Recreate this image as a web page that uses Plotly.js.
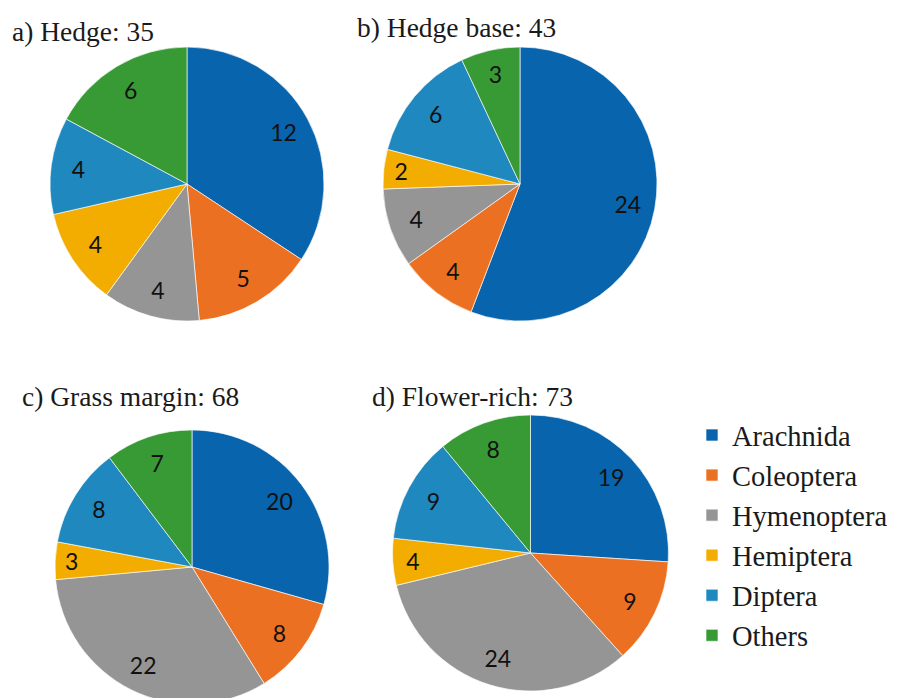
<!DOCTYPE html>
<html>
<head>
<meta charset="utf-8">
<script src="https://cdn.plot.ly/plotly-3.0.1.min.js"></script>
<style>
html, body { margin: 0; padding: 0; overflow: hidden; background: #fff; }
#chart { width: 897px; height: 720px; }
</style>
</head>
<body>
<div id="chart"></div>
<script>
// ---- data ----
var categories = ["Arachnida", "Coleoptera", "Hymenoptera", "Hemiptera", "Diptera", "Others"];
var panelTitles = ["a) Hedge: 35", "b) Hedge base: 43", "c) Grass margin: 68", "d) Flower-rich: 73"];
var hedge = [12, 5, 4, 4, 4, 6];
var hedgeBase = [24, 4, 4, 2, 6, 3];
var grassMargin = [20, 8, 22, 3, 8, 7];
var flowerRich = [19, 9, 24, 4, 9, 8];
var colors = ["#0864AD", "#EC7021", "#959595", "#F3AC00", "#1E88BF", "#389A35"];

// ---- layout helpers (pixels) ----
var W = 897, H = 720;
function dom(cx, cy, r) {
  return {
    x: [(cx - r) / W, (cx + r) / W],
    y: [1 - (cy + r) / H, 1 - (cy - r) / H]
  };
}
var series = [hedge, hedgeBase, grassMargin, flowerRich];
var domains = [dom(187, 184, 137), dom(520, 184, 137), dom(192, 567, 137), dom(530.5, 553, 138)];

var traces = [];
// filled pies
series.forEach(function (vals, i) {
  traces.push({
    type: "pie",
    labels: categories,
    values: vals,
    sort: false,
    direction: "clockwise",
    rotation: 0,
    domain: domains[i],
    marker: { colors: colors, line: { color: "rgba(255,255,255,0.8)", width: 0.8 } },
    textinfo: "none",
    hoverinfo: "label+value",
    showlegend: i === 0
  });
});
// value labels (same data, ring-shaped text layer so labels sit toward the rim like the original)
series.forEach(function (vals, i) {
  traces.push({
    type: "pie",
    labels: categories,
    values: vals,
    sort: false,
    direction: "clockwise",
    rotation: 0,
    hole: 0.6,
    domain: domains[i],
    marker: { colors: categories.map(function () { return "rgba(0,0,0,0)"; }), line: { width: 0 } },
    textinfo: "value",
    textposition: "inside",
    insidetextorientation: "horizontal",
    textfont: { family: "Lato, 'Open Sans', sans-serif", size: 23, color: "#111" },
    hoverinfo: "skip",
    showlegend: false
  });
});

var titlePos = [[10, 32], [355, 28], [20, 396], [370, 396]];
var annotations = panelTitles.map(function (t, i) {
  return {
    text: t, xref: "paper", yref: "paper",
    x: titlePos[i][0] / W, y: 1 - titlePos[i][1] / H,
    xanchor: "left", yanchor: "middle", showarrow: false,
    font: { family: "'Liberation Serif', 'DejaVu Serif', serif", size: 27.5, color: "#1a1a1a" }
  };
});

var layout = {
  width: W, height: H,
  margin: { l: 0, r: 0, t: 0, b: 0 },
  paper_bgcolor: "#fff",
  showlegend: true,
  legend: {
    x: 692 / W, y: 1 - 410 / H, xanchor: "left", yanchor: "top",
    font: { family: "'Liberation Serif', 'DejaVu Serif', serif", size: 28.5, color: "#1a1a1a" },
    traceorder: "normal", bgcolor: "rgba(0,0,0,0)"
  },
  annotations: annotations
};

Plotly.newPlot("chart", traces, layout, { displayModeBar: false, responsive: false });
</script>
</body>
</html>
